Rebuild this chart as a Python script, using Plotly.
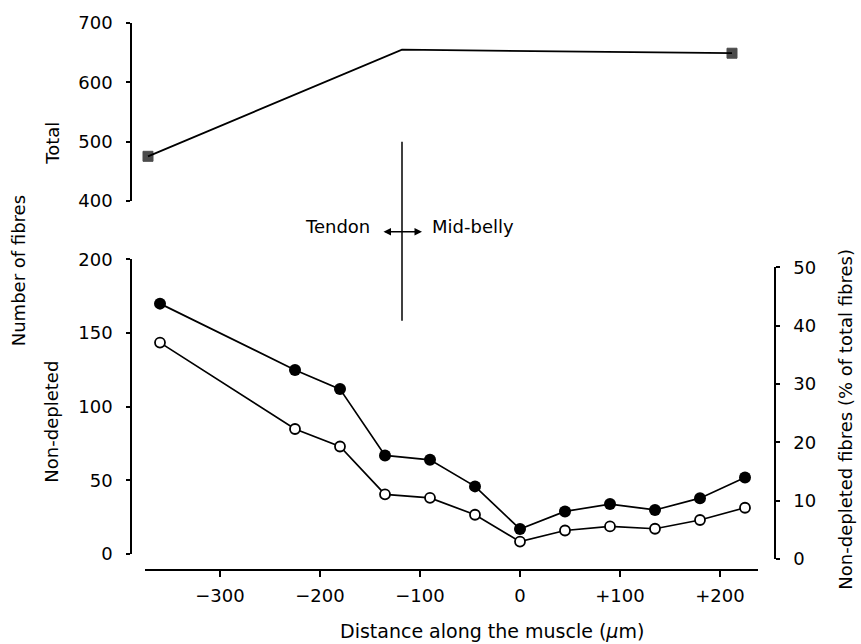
import plotly.graph_objects as go

# ---- data ----
distance = [-360, -225, -180, -135, -90, -45, 0, 45, 90, 135, 180, 225]
non_depleted_count = [170, 125, 112, 67, 64, 46, 17, 29, 34, 30, 38, 52]
non_depleted_pct = [37.1, 22.3, 19.3, 11.1, 10.5, 7.6, 3.0, 4.9, 5.6, 5.2, 6.7, 8.8]

total_x = [-372, -118, 212]
total_y = [475, 655, 649]

x_tickvals = [-300, -200, -100, 0, 100, 200]
x_ticktext = ["\u2212300", "\u2212200", "\u2212100", "0", "+100", "+200"]

boundary_x = -118

# ---- layout helpers (pixel -> paper) ----
W, H = 861, 644
ML, MR, MT, MB = 131, 86, 17, 74
PW = W - ML - MR
PH = H - MT - MB


def px(p):
    return (p - ML) / PW


def py(p):
    return (H - MB - p) / PH


FONT = "DejaVu Sans, Verdana, sans-serif"
FS = 18

fig = go.Figure()

fig.add_trace(go.Scatter(
    x=total_x, y=total_y, xaxis="x2", yaxis="y3", mode="lines+markers",
    line=dict(color="black", width=1.8),
    marker=dict(symbol="square", size=[10, 0, 10], color="black",
                line=dict(color="black", width=1)),
    cliponaxis=False, showlegend=False))

fig.add_trace(go.Scatter(
    x=distance, y=non_depleted_count, xaxis="x", yaxis="y", mode="lines+markers",
    line=dict(color="black", width=1.7),
    marker=dict(symbol="circle", size=12, color="black"),
    cliponaxis=False, showlegend=False))

fig.add_trace(go.Scatter(
    x=distance, y=non_depleted_pct, xaxis="x", yaxis="y2", mode="lines+markers",
    line=dict(color="black", width=1.7),
    marker=dict(symbol="circle", size=10, color="white",
                line=dict(color="black", width=1.8)),
    cliponaxis=False, showlegend=False))

xdom = [px(145), px(758)]
xrange_ = [-375, 238]

axis_common = dict(showgrid=False, zeroline=False, color="black",
                   tickfont=dict(family=FONT, size=FS, color="black"),
                   ticks="outside", tickcolor="black", showline=True,
                   linecolor="black")

fig.update_layout(
    width=W, height=H,
    margin=dict(l=ML, r=MR, t=MT, b=MB),
    paper_bgcolor="white", plot_bgcolor="rgba(0,0,0,0)",
    font=dict(family=FONT, size=FS, color="black"),
    xaxis=dict(**axis_common, domain=xdom, range=xrange_, anchor="free",
               position=0, tickvals=x_tickvals, ticktext=x_ticktext,
               linewidth=2, ticklen=6, tickwidth=1.5, ticklabelstandoff=3),
    xaxis2=dict(domain=xdom, range=xrange_, anchor="y3", visible=False),
    yaxis=dict(**axis_common, domain=[py(554), py(256)], range=[0, 200],
               anchor="free", position=0, tickvals=[0, 50, 100, 150, 200],
               linewidth=1.5, ticklen=4, tickwidth=1.5, ticklabelstandoff=10),
    yaxis2=dict(**axis_common, domain=[py(559), py(264)], range=[0, 50],
                anchor="free", position=1, side="right",
                tickvals=[0, 10, 20, 30, 40, 50],
                linewidth=1.5, ticklen=4, tickwidth=1.5, ticklabelstandoff=10),
    yaxis3=dict(**axis_common, domain=[py(196.7), 1.0], range=[400, 700],
                anchor="free", position=0, tickvals=[400, 500, 600, 700],
                linewidth=1.5, ticklen=4, tickwidth=1.5, ticklabelstandoff=10),
)

# vertical tendon / mid-belly boundary line
fig.add_shape(type="line", xref="x", yref="paper",
              x0=boundary_x, x1=boundary_x, y0=py(318), y1=py(137),
              line=dict(color="black", width=1.5))

# double-headed arrow
fig.add_annotation(x=boundary_x + 20, y=py(228), xref="x", yref="paper",
                   ax=-40, ay=0, axref="pixel", ayref="pixel",
                   text="", showarrow=True, arrowhead=2, arrowside="end+start",
                   arrowsize=1, arrowwidth=1.5, arrowcolor="black")
fig.add_annotation(x=px(372), y=py(223), xref="paper", yref="paper",
                   text="Tendon", showarrow=False, xanchor="right",
                   font=dict(family=FONT, size=FS))
fig.add_annotation(x=px(430), y=py(223), xref="paper", yref="paper",
                   text="Mid-belly", showarrow=False, xanchor="left",
                   font=dict(family=FONT, size=FS))

# axis titles
labels = [
    ("Total", 53, 139, -90, FS),
    ("Number of fibres", 18, 268, -90, FS),
    ("Non-depleted", 52, 420, -90, FS),
    ("Non-depleted fibres (% of total fibres)", 846, 418, -90, FS),
    ("Distance along the muscle (<i>\u03bc</i>m)", 492, 632, 0, 19),
]
for txt, x, y, ang, fs in labels:
    fig.add_annotation(x=px(x), y=py(y), xref="paper", yref="paper",
                       text=txt, showarrow=False, textangle=ang,
                       xanchor="center", yanchor="middle",
                       font=dict(family=FONT, size=fs, color="black"))

fig.write_html("out.html")
